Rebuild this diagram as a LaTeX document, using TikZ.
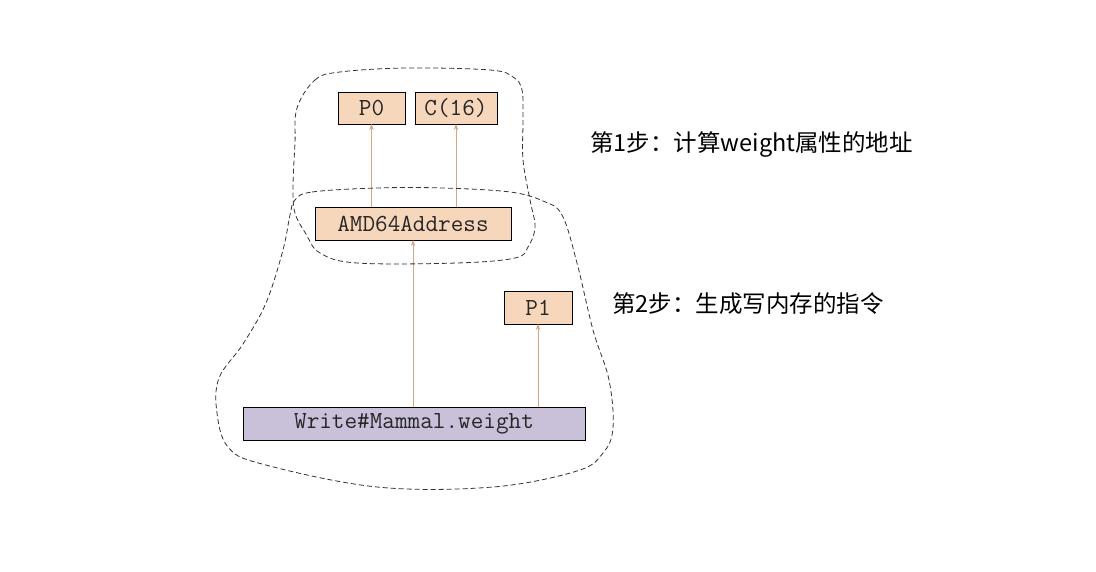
\documentclass[tikz,border=0pt]{standalone}
\usepackage{fontspec}
\newfontfamily\cjk{Noto Sans CJK SC}
\usetikzlibrary{arrows.meta}
\definecolor{peach}{HTML}{F7D7BC}
\definecolor{lav}{HTML}{C9C0DA}
\definecolor{tan}{HTML}{D6A782}
\begin{document}
\begin{tikzpicture}[x=1pt,y=-1pt,
  box/.style={draw=black,line width=0.8pt,inner sep=0pt,outer sep=0pt,font=\ttfamily\fontsize{24.5}{24.5}\selectfont,text=black!85},
  pbox/.style={box,fill=peach},
  wbox/.style={box,fill=lav},
  conn/.style={draw=tan,line width=1pt,-{Stealth[length=6pt,width=4.5pt]}},
  blob/.style={draw=black!80,line width=0.8pt,dash pattern=on 5pt off 3pt},
  lbl/.style={font=\cjk\fontsize{23.5}{23.5}\selectfont,anchor=west,inner sep=0pt}]
\useasboundingbox (0,0) rectangle (1096,572);
% boxes
\node[pbox,minimum width=67pt,minimum height=32pt] (p0) at (371.5,108) {P0};
\node[pbox,minimum width=82pt,minimum height=32pt] (c16) at (456,108) {C(16)};
\node[pbox,minimum width=196pt,minimum height=33pt] (amd) at (413,223.5) {AMD64Address};
\node[pbox,minimum width=68pt,minimum height=33pt] (p1) at (538,307.5) {P1};
\node[wbox,minimum width=342pt,minimum height=33pt] (wr) at (414,423.5) {Write\#Mammal.weight};
% connectors
\draw[conn] (amd.north -| p0.south) -- (p0.south);
\draw[conn] (amd.north -| c16.south) -- (c16.south);
\draw[conn] (wr.north -| amd.south) -- (amd.south);
\draw[conn] (wr.north -| p1.south) -- (p1.south);
% dashed blobs
\draw[blob] plot[smooth cycle,tension=0.6] coordinates {
 (297,108) (315,80) (340,72) (407,68) (490,70) (513,77) (522,90)
 (523,120) (523,160) (530,200) (535,227) (528,247) (515,258)
 (457,263) (357,263) (320,253) (306,234) (295,213) (293,187) (295,143)};
\draw[blob] plot[smooth cycle,tension=0.6] coordinates {
 (295,200) (312,192) (377,188) (443,188) (510,192) (543,201) (562,215)
 (577,263) (593,330) (609,380) (613,428) (603,453) (577,471)
 (493,487) (377,487) (262,464) (228,447) (217,413) (219,378)
 (243,344) (266,303) (283,250) (290,215)};
% labels
\node[lbl] (s1) at (590,145) {第1步：计算weight属性的地址};
\node[lbl] (s2) at (612,304) {第2步：生成写内存的指令};
\end{tikzpicture}
\end{document}
